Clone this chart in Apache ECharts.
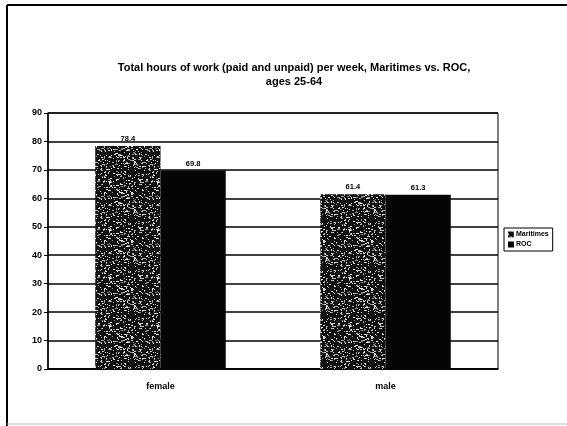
<!DOCTYPE html>
<html>
<head>
<meta charset="utf-8">
<script src="https://cdn.jsdelivr.net/npm/echarts@6/dist/echarts.min.js"></script>
<style>
html,body{margin:0;padding:0;background:#fff;}
#chart{width:567px;height:426px;}
</style>
</head>
<body>
<div id="chart"></div>
<script>
const categories = ['female', 'male'];
const maritimes = [78.4, 61.4];
const roc = [69.8, 61.3];
const seriesNames = ['Maritimes', 'ROC'];
const yTicks = [0, 10, 20, 30, 40, 50, 60, 70, 80, 90];

// Speckled fill: dark base with scattered light flecks (fixed LCG so it is stable)
function speckle() {
  const c = document.createElement('canvas');
  c.width = 48; c.height = 48;
  const g = c.getContext('2d');
  g.fillStyle = '#111';
  g.fillRect(0, 0, 48, 48);
  let s = 12345;
  const next = () => (s = (s * 1103515245 + 12345) & 0x7fffffff) / 0x7fffffff;
  for (let i = 0; i < 420; i++) {
    const x = Math.floor(next() * 48), y = Math.floor(next() * 48);
    const v = Math.floor(130 + next() * 125);
    g.fillStyle = 'rgb(' + v + ',' + v + ',' + v + ')';
    g.fillRect(x, y, next() < 0.3 ? 2 : 1, 1);
  }
  return c;
}
const pattern = { image: speckle(), repeat: 'repeat' };

const chart = echarts.init(document.getElementById('chart'));
const labelStyle = {
  show: true, position: 'top', distance: 3,
  fontFamily: 'Liberation Sans', fontWeight: 'bold', fontSize: 7.5, color: '#000',
  formatter: p => p.value.toFixed(1)
};
chart.setOption({
  animation: false,
  backgroundColor: '#fff',
  title: {
    text: 'Total hours of work (paid and unpaid) per week, Maritimes vs. ROC,\nages 25-64',
    left: 289, top: 56, textAlign: 'center',
    textStyle: { fontFamily: 'Liberation Sans', fontWeight: 'bold', fontSize: 11, color: '#000', lineHeight: 14 }
  },
  legend: {
    orient: 'vertical', left: 504, top: 228,
    itemWidth: 6, itemHeight: 6, itemGap: 3, padding: [3, 4],
    borderColor: '#000', borderWidth: 1,
    textStyle: { fontFamily: 'Liberation Sans', fontWeight: 'bold', fontSize: 7, color: '#000', padding: [0, 0, 0, -3] },
    data: seriesNames.map(n => ({ name: n, icon: 'rect' }))
  },
  grid: {
    left: 48, right: 69, top: 113, bottom: 57,
    show: true, borderColor: '#000', borderWidth: 1
  },
  xAxis: {
    type: 'category', data: categories,
    axisLine: { lineStyle: { color: '#000', width: 1.5 } },
    axisTick: { show: false },
    axisLabel: { fontFamily: 'Liberation Sans', fontWeight: 'bold', fontSize: 9, color: '#000', margin: 13 }
  },
  yAxis: {
    type: 'value', min: yTicks[0], max: yTicks[yTicks.length - 1], interval: 10,
    axisLine: { show: true, lineStyle: { color: '#000', width: 1.5 } },
    axisTick: { show: true, inside: false, length: 4, lineStyle: { color: '#000' } },
    axisLabel: { fontFamily: 'Liberation Sans', fontWeight: 'bold', fontSize: 9, color: '#000', margin: 6 },
    splitLine: { lineStyle: { color: '#000', width: 1.5 } }
  },
  series: [
    {
      name: seriesNames[0], type: 'bar', data: maritimes,
      barGap: '0%', barCategoryGap: '42%',
      itemStyle: { color: pattern },
      label: labelStyle
    },
    {
      name: seriesNames[1], type: 'bar', data: roc,
      itemStyle: { color: '#050505' },
      label: labelStyle
    }
  ],
  graphic: [
    { type: 'line', shape: { x1: 7, y1: 5, x2: 567, y2: 5 }, style: { stroke: '#000', lineWidth: 2 } },
    { type: 'line', shape: { x1: 7, y1: 5, x2: 7, y2: 426 }, style: { stroke: '#000', lineWidth: 2 } },
    { type: 'line', shape: { x1: 7, y1: 424, x2: 567, y2: 424 }, style: { stroke: '#bbb', lineWidth: 1 } }
  ]
});
</script>
</body>
</html>
